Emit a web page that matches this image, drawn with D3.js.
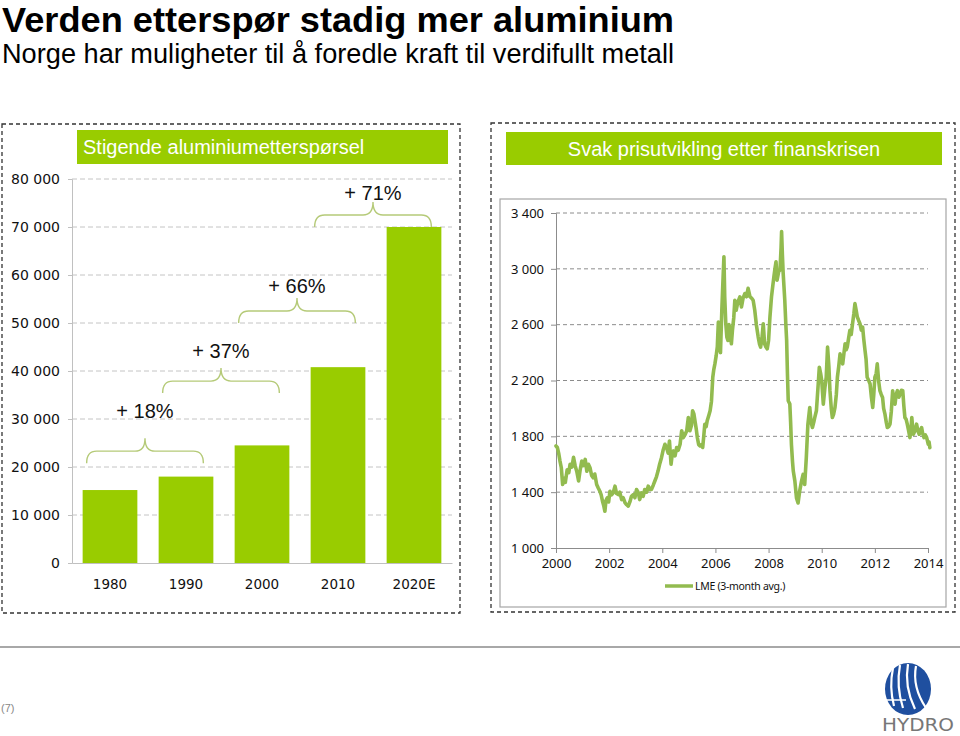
<!DOCTYPE html>
<html><head><meta charset="utf-8">
<script src="https://cdn.jsdelivr.net/npm/d3@7/dist/d3.min.js"></script>
<style>body{margin:0;background:#fff}svg{display:block}</style>
</head><body>
<svg id="c" width="960" height="736"></svg>
<script>
// ---------- DATA ----------
const demandCats = ["1980","1990","2000","2010","2020E"];
const demandVals = [15200, 18000, 24500, 40800, 70000];
const demandTicks = [0,10000,20000,30000,40000,50000,60000,70000,80000];
const growthLabels = ["+ 18%","+ 37%","+ 66%","+ 71%"];
const growthBraceBase = [20800, 35400, 50000, 70000];
const growthLabelPos = [30200, 42700, 56250, 75600];

const priceTicks = [1000,1400,1800,2200,2600,3000,3400];
const yearTicks = [2000,2002,2004,2006,2008,2010,2012,2014];
const lmeYears = [2000.00,2000.05,2000.10,2000.15,2000.20,2000.25,2000.30,2000.35,2000.42,2000.48,2000.53,2000.60,2000.66,2000.72,2000.78,2000.85,2000.91,2000.97,
2001.03,2001.10,2001.16,2001.22,2001.28,2001.34,2001.40,2001.46,2001.53,2001.59,2001.65,2001.70,2001.75,2001.80,2001.84,2001.88,2001.93,2001.98,
2002.03,2002.09,2002.15,2002.22,2002.28,2002.34,2002.40,2002.47,2002.53,2002.60,2002.66,2002.72,2002.78,2002.84,2002.91,2002.97,
2003.03,2003.09,2003.15,2003.22,2003.28,2003.34,2003.41,2003.47,2003.53,2003.59,2003.66,2003.72,2003.78,2003.84,2003.90,2003.97,
2004.03,2004.10,2004.16,2004.22,2004.27,2004.33,2004.38,2004.42,2004.48,2004.54,2004.60,2004.67,2004.73,2004.79,2004.85,2004.92,2004.98,
2005.04,2005.10,2005.14,2005.19,2005.23,2005.28,2005.32,2005.37,2005.42,2005.47,2005.52,2005.56,2005.60,2005.65,2005.69,2005.75,2005.80,2005.85,2005.90,2005.94,2005.98,
2006.03,2006.07,2006.11,2006.15,2006.19,2006.24,2006.28,2006.32,2006.35,2006.39,2006.43,2006.47,2006.51,2006.55,2006.60,2006.64,2006.69,2006.73,2006.78,2006.84,2006.92,2006.98,
2007.04,2007.11,2007.17,2007.23,2007.30,2007.36,2007.42,2007.48,2007.54,2007.61,2007.66,2007.70,2007.75,2007.80,2007.85,2007.90,2007.95,
2008.00,2008.05,2008.11,2008.16,2008.20,2008.24,2008.28,2008.32,2008.38,2008.43,2008.47,2008.49,2008.52,2008.55,2008.61,2008.65,2008.68,2008.71,2008.74,2008.80,2008.83,2008.86,2008.90,2008.93,2008.99,
2009.05,2009.11,2009.17,2009.24,2009.30,2009.36,2009.42,2009.48,2009.55,2009.60,2009.65,2009.70,2009.74,2009.80,2009.86,2009.91,2009.96,
2010.00,2010.06,2010.12,2010.17,2010.22,2010.27,2010.31,2010.36,2010.40,2010.45,2010.50,2010.55,2010.59,2010.64,2010.69,2010.74,2010.79,2010.84,2010.88,2010.92,2010.96,
2011.01,2011.06,2011.11,2011.16,2011.21,2011.25,2011.30,2011.34,2011.39,2011.44,2011.49,2011.54,2011.58,2011.63,2011.67,2011.71,2011.77,2011.82,2011.87,2011.92,2011.96,
2012.00,2012.05,2012.09,2012.14,2012.19,2012.24,2012.29,2012.33,2012.38,2012.43,2012.47,2012.52,2012.57,2012.62,2012.67,2012.71,2012.76,2012.80,2012.85,2012.90,2012.95,
2013.00,2013.05,2013.09,2013.13,2013.18,2013.22,2013.27,2013.32,2013.36,2013.39,2013.42,2013.45,2013.51,2013.57,2013.62,2013.67,2013.71,2013.76,2013.80,2013.85,2013.90,2013.95,
2014.01,2014.04,2014.07];
const lmePrices = [1731,1720,1680,1623,1575,1455,1500,1470,1560,1540,1600,1580,1650,1590,1550,1480,1560,1623,
1590,1635,1550,1600,1575,1520,1503,1530,1455,1430,1407,1380,1335,1300,1263,1340,1360,1330,
1407,1380,1395,1443,1390,1383,1400,1347,1360,1323,1310,1300,1330,1371,1383,1360,
1419,1400,1347,1395,1370,1419,1400,1443,1420,1419,1450,1480,1510,1551,1600,1647,
1700,1743,1720,1680,1767,1600,1680,1695,1660,1720,1700,1743,1840,1790,1810,1840,1935,
1840,1880,1983,1960,1911,1850,1790,1740,1731,1740,1720,1800,1887,1870,1911,1950,1983,2050,2223,2280,2319,
2380,2440,2619,2450,2400,2700,2900,3087,2800,2607,2511,2487,2600,2559,2463,2560,2650,2775,2703,2760,2799,2727,
2790,2823,2800,2860,2800,2790,2775,2703,2600,2511,2460,2439,2500,2607,2463,2440,2427,
2487,2650,2799,2880,2943,3000,3051,2919,2980,2991,3150,3267,3100,2967,2775,2600,2487,2250,2055,2031,1900,1743,1620,1551,1479,
1359,1323,1407,1479,1527,1455,1647,1887,2007,1900,1863,1900,1935,1983,2150,2295,2250,
2199,2031,2150,2223,2439,2300,2127,2000,1935,1960,2007,2100,2223,2300,2391,2350,2319,2400,2463,2420,2439,
2500,2559,2530,2607,2680,2751,2700,2655,2630,2607,2560,2583,2500,2415,2350,2223,2200,2175,2080,2007,2100,
2223,2250,2319,2200,2127,2100,2079,2000,1959,1900,1863,1870,1887,1980,2127,2050,2031,2100,2127,2080,2103,
2130,2127,2020,1935,1920,1887,1840,1791,1850,1935,1870,1815,1840,1887,1840,1815,1840,1863,1820,1791,1810,1791,
1743,1760,1719];

// ---------- SETUP ----------
const svg = d3.select("#c");
const loc = d3.formatLocale({decimal:",", thousands:"\u00a0", grouping:[3], currency:["",""]});
const fmt = v => loc.format(",")(v).replace(/\u00a0/g," ");
const GREEN = "#99cc00";

// Titles
svg.append("text").attr("x",2).attr("y",32)
  .style("font-family","'Liberation Sans',Arial,sans-serif").style("font-weight","bold").style("font-size","35px")
  .attr("textLength",672).attr("lengthAdjust","spacingAndGlyphs")
  .attr("fill","#000").text("Verden etterspør stadig mer aluminium");
svg.append("text").attr("x",2).attr("y",63)
  .style("font-family","'Liberation Sans',Arial,sans-serif").style("font-size","27px")
  .attr("textLength",672).attr("lengthAdjust","spacingAndGlyphs")
  .attr("fill","#000").text("Norge har muligheter til å foredle kraft til verdifullt metall");

// Panels (dashed frames)
svg.append("rect").attr("x",2).attr("y",124).attr("width",458).attr("height",489)
  .attr("fill","none").attr("stroke","#333").attr("stroke-width",1.3).attr("stroke-dasharray","4,3");
svg.append("rect").attr("x",491).attr("y",123).attr("width",464).attr("height",489)
  .attr("fill","none").attr("stroke","#333").attr("stroke-width",1.3).attr("stroke-dasharray","4,3");

// Header bars
svg.append("rect").attr("x",77).attr("y",130).attr("width",371).attr("height",34).attr("fill",GREEN);
svg.append("text").attr("x",83).attr("y",154)
  .style("font-family","'Liberation Sans',Arial,sans-serif").style("font-size","20px")
  .attr("fill","#fff").text("Stigende aluminiumetterspørsel");
svg.append("rect").attr("x",506).attr("y",132).attr("width",436).attr("height",33).attr("fill",GREEN);
svg.append("text").attr("x",724).attr("y",156).attr("text-anchor","middle")
  .style("font-family","'Liberation Sans',Arial,sans-serif").style("font-size","20px")
  .attr("fill","#fff").text("Svak prisutvikling etter finanskrisen");

// ---------- LEFT BAR CHART ----------
const L = {x0:72, x1:452, y0:563, y1:179};
const xb = d3.scaleBand().domain(demandCats).range([L.x0, L.x1]).paddingInner(0.28).paddingOuter(0.14);
const yb = d3.scaleLinear().domain([0,80000]).range([L.y0, L.y1]);
const gl = svg.append("g");

gl.selectAll(".grid").data(demandTicks.filter(d=>d>0)).join("line")
  .attr("x1",L.x0).attr("x2",L.x1).attr("y1",d=>yb(d)).attr("y2",d=>yb(d))
  .attr("stroke","#c4c4c4").attr("stroke-width",1).attr("stroke-dasharray","5,3");

const yAxisL = d3.axisLeft(yb).tickValues(demandTicks).tickFormat(fmt).tickSize(4).tickPadding(8);
const gya = gl.append("g").attr("transform",`translate(${L.x0},0)`).call(yAxisL);
gya.select(".domain").attr("stroke","#c0c0c0");
gya.selectAll(".tick line").attr("stroke","#c0c0c0");
gya.selectAll(".tick text").style("font-family","'DejaVu Sans',Verdana,sans-serif").style("font-size","14px").attr("fill","#111");

const xAxisL = d3.axisBottom(xb).tickSize(0).tickPadding(16);
const gxa = gl.append("g").attr("transform",`translate(0,${L.y0})`).call(xAxisL);
gxa.select(".domain").attr("stroke","#c0c0c0");
gxa.selectAll(".tick text").style("font-family","'DejaVu Sans',Verdana,sans-serif").style("font-size","13.5px").attr("fill","#111");

gl.selectAll(".bar").data(demandCats).join("rect")
  .attr("x",d=>xb(d)).attr("width",xb.bandwidth())
  .attr("y",(d,i)=>yb(demandVals[i])).attr("height",(d,i)=>yb(0)-yb(demandVals[i]))
  .attr("fill",GREEN);

function bracePath(x1,x2,yEnd){
  const xm=(x1+x2)/2, ym=yEnd-12, yp=yEnd-25, r=10;
  return `M${x1},${yEnd} Q${x1},${ym} ${x1+r},${ym} L${xm-r},${ym} Q${xm},${ym} ${xm},${yp} Q${xm},${ym} ${xm+r},${ym} L${x2-r},${ym} Q${x2},${ym} ${x2},${yEnd}`;
}
growthLabels.forEach((lab,i)=>{
  const x1 = xb(demandCats[i])+4;
  const x2 = xb(demandCats[i+1])+xb.bandwidth()-10;
  gl.append("path").attr("d",bracePath(x1,x2,yb(growthBraceBase[i])))
    .attr("fill","none").attr("stroke","#b5ca78").attr("stroke-width",1.4);
  gl.append("text").attr("x",(x1+x2)/2).attr("y",yb(growthLabelPos[i])).attr("text-anchor","middle")
    .style("font-family","'Liberation Sans',Arial,sans-serif").style("font-size","20px").attr("fill","#111").text(lab);
});

// ---------- RIGHT LINE CHART ----------
svg.append("rect").attr("x",500).attr("y",199).attr("width",446).attr("height",408)
  .attr("fill","none").attr("stroke","#a6a6a6").attr("stroke-width",1.2);
const R = {x0:556, x1:928, y0:548, y1:213};
const xr = d3.scaleLinear().domain([2000,2014]).range([R.x0,R.x1]);
const yr = d3.scaleLinear().domain([1000,3400]).range([R.y0,R.y1]);
const gr = svg.append("g");

gr.selectAll(".grid").data(priceTicks.filter(d=>d>1000)).join("line")
  .attr("x1",R.x0).attr("x2",R.x1).attr("y1",d=>yr(d)).attr("y2",d=>yr(d))
  .attr("stroke","#8c8c8c").attr("stroke-width",1).attr("stroke-dasharray","4,3");

const yAxisR = d3.axisLeft(yr).tickValues(priceTicks).tickFormat(fmt).tickSize(5).tickPadding(7);
const gyr = gr.append("g").attr("transform",`translate(${R.x0},0)`).call(yAxisR);
gyr.select(".domain").attr("stroke","#8c8c8c");
gyr.selectAll(".tick line").attr("stroke","#8c8c8c");
gyr.selectAll(".tick text").style("font-family","'Noto Sans',sans-serif").style("font-size","13px").attr("fill","#111");

const xAxisR = d3.axisBottom(xr).tickValues(yearTicks).tickFormat(d3.format("d")).tickSize(5).tickPadding(6);
const gxr = gr.append("g").attr("transform",`translate(0,${R.y0})`).call(xAxisR);
gxr.select(".domain").attr("stroke","#8c8c8c");
gxr.selectAll(".tick line").attr("stroke","#8c8c8c");
gxr.selectAll(".tick text").style("font-family","'Noto Sans',sans-serif").style("font-size","13px").attr("fill","#111");

const lineGen = d3.line().x((d,i)=>xr(lmeYears[i])).y((d,i)=>yr(lmePrices[i]));
gr.append("path").attr("d",lineGen(lmePrices))
  .attr("fill","none").attr("stroke","#92bb4f").attr("stroke-width",3.6)
  .attr("stroke-linejoin","round").attr("stroke-linecap","round");

gr.append("line").attr("x1",665).attr("x2",693).attr("y1",586).attr("y2",586)
  .attr("stroke","#92bb4f").attr("stroke-width",3.5);
gr.append("text").attr("x",695).attr("y",590)
  .style("font-family","'Noto Sans',sans-serif").style("font-size","10.5px").style("letter-spacing","-0.3px")
  .attr("fill","#111").text("LME (3-month avg.)");

// ---------- FOOTER ----------
svg.append("line").attr("x1",0).attr("x2",960).attr("y1",647).attr("y2",647)
  .attr("stroke","#a8a8a8").attr("stroke-width",2);
svg.append("text").attr("x",1).attr("y",712)
  .style("font-family","'Liberation Sans',Arial,sans-serif").style("font-size","11px")
  .attr("fill","#888").text("(7)");

const lg = svg.append("g");
lg.append("ellipse").attr("cx",908).attr("cy",689).attr("rx",23).attr("ry",26).attr("fill","#1f4f9f");
[[893,668,888,706],[900,665,897,708],[908,664,909,709],[916,666,920,708]].forEach(p=>{
  lg.append("path").attr("d",`M${p[0]},${p[1]} Q${p[0]-4},${(p[1]+p[3])/2} ${p[2]+6},${p[3]}`)
    .attr("fill","none").attr("stroke","#fff").attr("stroke-width",2.2);
});
lg.append("line").attr("x1",886).attr("x2",906).attr("y1",700).attr("y2",700).attr("stroke","#fff").attr("stroke-width",1.5);
lg.append("text").attr("x",882).attr("y",731).attr("textLength",72).attr("lengthAdjust","spacingAndGlyphs")
  .style("font-family","'DejaVu Sans',sans-serif").style("font-size","17px").attr("fill","#777").text("HYDRO");
</script>
</body></html>
